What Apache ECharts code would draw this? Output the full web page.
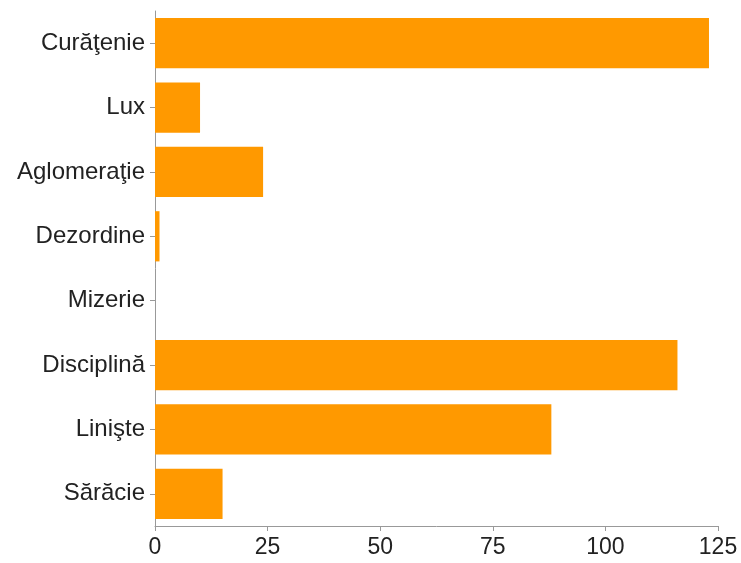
<!DOCTYPE html>
<html>
<head>
<meta charset="utf-8">
<script src="https://cdn.jsdelivr.net/npm/echarts@6/dist/echarts.min.js"></script>
<style>
  html, body { margin: 0; padding: 0; background: #fff; }
  #chart { width: 741px; height: 563px; }
</style>
</head>
<body>
<div id="chart"></div>
<script>
// categories, top to bottom
const categories = ["Curăţenie", "Lux", "Aglomeraţie", "Dezordine", "Mizerie", "Disciplină", "Linişte", "Sărăcie"];
const values = [123, 10, 24, 1, 0, 116, 88, 15];
const xTicks = [0, 25, 50, 75, 100, 125];

const chart = echarts.init(document.getElementById("chart"));
chart.setOption({
  animation: false,
  grid: {
    left: 155,
    right: 23,
    top: 11,
    bottom: 37,
  },
  xAxis: {
    type: "value",
    min: xTicks[0],
    max: xTicks[xTicks.length - 1],
    interval: 25,
    splitLine: { show: false },
    axisLine: { show: true, lineStyle: { color: "#999", width: 1 } },
    axisTick: { show: true, length: 5, lineStyle: { color: "#999" } },
    axisLabel: {
      color: "#222",
      fontSize: 23,
      fontFamily: "Liberation Sans",
      margin: 10,
    },
  },
  yAxis: {
    type: "category",
    inverse: true,
    data: categories,
    axisLine: { show: true, lineStyle: { color: "#999", width: 1 } },
    axisTick: { show: true, length: 5, alignWithLabel: true, lineStyle: { color: "#999" } },
    axisLabel: {
      color: "#222",
      fontSize: 24,
      fontFamily: "Liberation Sans",
      margin: 10,
    },
  },
  series: [
    {
      type: "bar",
      data: values,
      barCategoryGap: "22%",
      itemStyle: { color: "#ff9900" },
    },
  ],
});
</script>
</body>
</html>
